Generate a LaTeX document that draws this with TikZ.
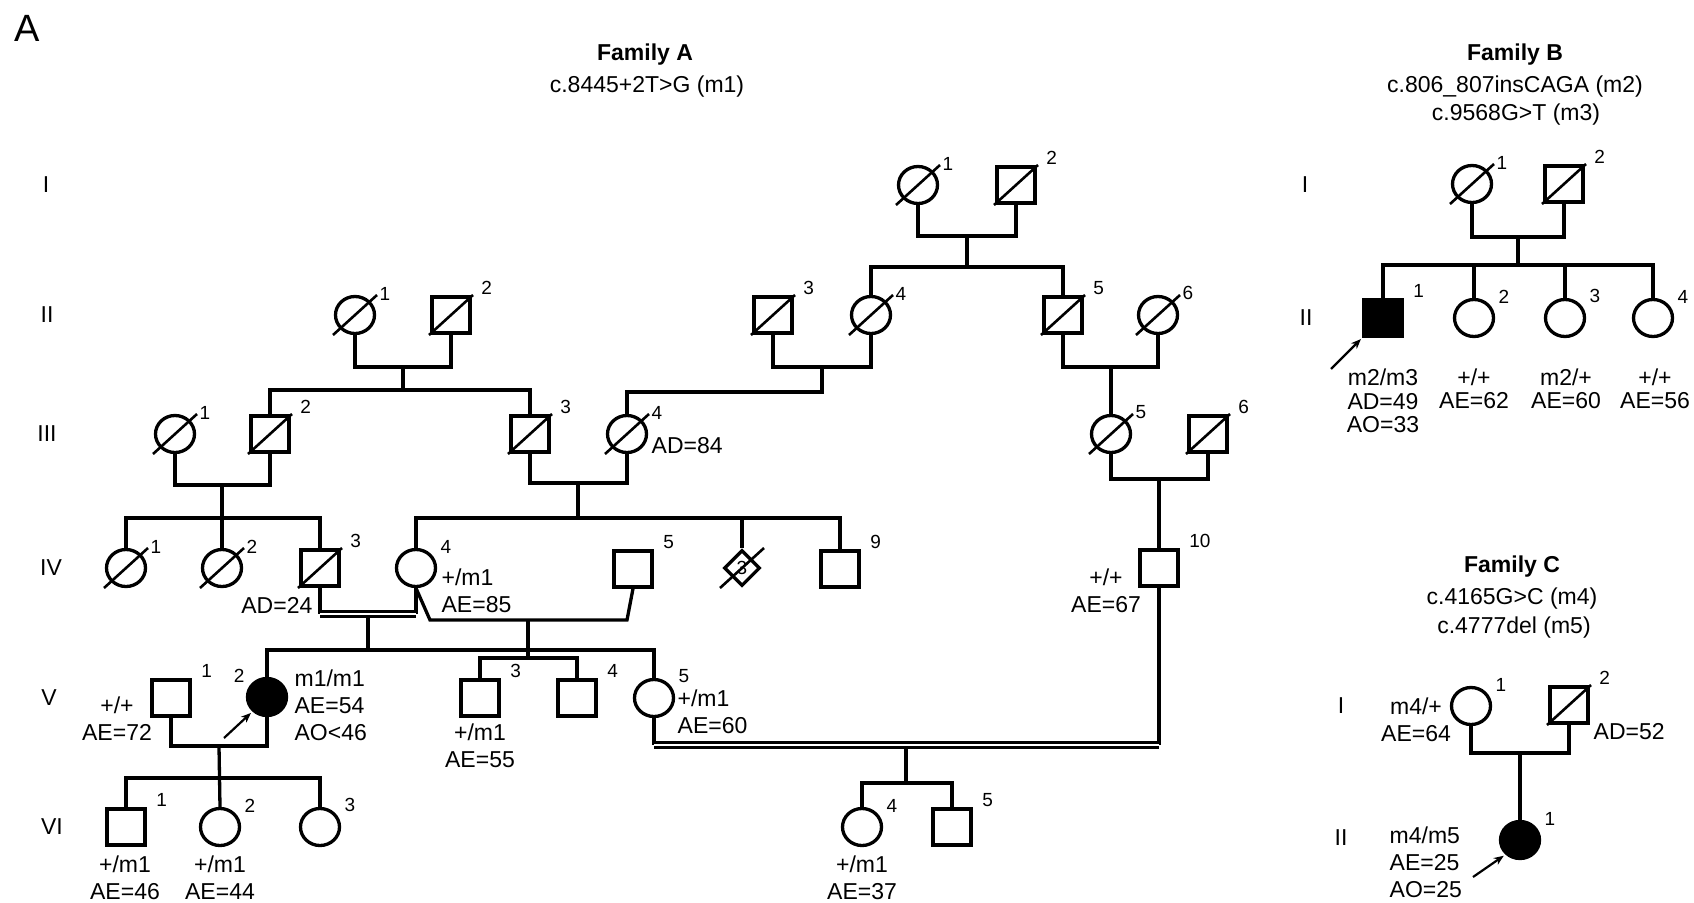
\documentclass[tikz,border=0pt]{standalone}
\usepackage{fontspec}
\setmainfont{Liberation Sans}
\usetikzlibrary{shapes.geometric,arrows.meta}
\newcommand{\txtsize}{\fontsize{23}{27}\selectfont}
\newcommand{\numsize}{\fontsize{19}{21}\selectfont}
\begin{document}
\begin{tikzpicture}[x=1pt, y=-1pt, line width=3.3pt,
  male/.style={draw, rectangle, minimum width=38pt, minimum height=36pt, inner sep=0pt},
  female/.style={draw, ellipse, minimum width=39pt, minimum height=37pt, inner sep=0pt},
  unknown/.style={draw, diamond, minimum width=36pt, minimum height=36pt, inner sep=0pt, font=\numsize},
  affected/.style={fill=black},
  num/.style={label={[font=\numsize, inner sep=0pt, xshift=8pt, yshift=-1pt]north east:#1}},
  numleft/.style={label={[font=\numsize, inner sep=0pt, xshift=-6pt, yshift=-1pt]north west:#1}},
  info/.style={font=\txtsize, inner sep=0pt},
  gen/.style={font=\txtsize, inner sep=0pt},
  famtitle/.style={font=\txtsize\bfseries, inner sep=0pt},
  proband/.style={-{Stealth[length=10pt, width=8pt]}, line width=2.2pt, shorten >=2pt},
  consang/.style={double, double distance=2.6pt, line width=2.3pt}]
\useasboundingbox (0,0) rectangle (1694,902);
\node[font=\fontsize{38}{40}\selectfont, inner sep=0pt] (panel) at (27,28) {A};

% ---------- Family A ----------
\node[famtitle] (titleA) at (645,55) {Family A};
\node[info] (mutA) at (647,87) {c.8445+2T>G (m1)};
\node[gen] (gAI) at (46,185) {I};
\node[gen] (gAII) at (47,315) {II};
\node[gen] (gAIII) at (47,434) {III};
\node[gen] (gAIV) at (51,568) {IV};
\node[gen] (gAV) at (49,698) {V};
\node[gen] (gAVI) at (52,827) {VI};
% generation I
\node[female, num=1] (AI1) at (918,185) {};
\node[male, num=2] (AI2) at (1016,185) {};
% generation II
\node[female, num=1] (AII1) at (355,315) {};
\node[male, num=2] (AII2) at (451,315) {};
\node[male, num=3] (AII3) at (773,315) {};
\node[female, num=4] (AII4) at (871,315) {};
\node[male, num=5] (AII5) at (1063,315) {};
\node[female, num=6] (AII6) at (1158,315) {};
% generation III
\node[female, num=1] (AIII1) at (175,434) {};
\node[male, num=2] (AIII2) at (270,434) {};
\node[male, num=3] (AIII3) at (530,434) {};
\node[female, num=4] (AIII4) at (627,434) {};
\node[female, num=5] (AIII5) at (1111,434) {};
\node[male, num=6] (AIII6) at (1208,434) {};
% generation IV
\node[female, num=1] (AIV1) at (126,568) {};
\node[female, num=2] (AIV2) at (222,568) {};
\node[male, num=3] (AIV3) at (320,568) {};
\node[female, num=4] (AIV4) at (416,568) {};
\node[male, num=5] (AIV5) at (633,569) {};
\node[unknown] (AIVd) at (742,568) {3};
\node[male, num=9] (AIV9) at (840,569) {};
\node[male, num=10] (AIV10) at (1159,568) {};
% generation V
\node[male, num=1] (AV1) at (171,698) {};
\node[female, affected, numleft=2] (AV2) at (267,697) {};
\node[male, num=3] (AV3) at (480,698) {};
\node[male, num=4] (AV4) at (577,698) {};
\node[female, num=5] (AV5) at (654,698) {};
% generation VI
\node[male, num=1] (AVI1) at (126,827) {};
\node[female, num=2] (AVI2) at (220,827) {};
\node[female, num=3] (AVI3) at (320,827) {};
\node[female, num=4] (AVI4) at (862,827) {};
\node[male, num=5] (AVI5) at (952,827) {};

% couples and sibships
\coordinate (mAI) at (967,236);
\coordinate (sAI) at (967,267);
\draw (AI1.south) |- (mAI) -| (AI2.south);
\draw (mAI) -- (sAI);
\draw (AII4.north) |- (sAI) -| (AII5.north);
\coordinate (mAII12) at (403,367);
\coordinate (sAII12) at (403,390);
\draw (AII1.south) |- (mAII12) -| (AII2.south);
\draw (mAII12) -- (sAII12);
\draw (AIII2.north) |- (sAII12) -| (AIII3.north);
\coordinate (mAII34) at (822,367);
\coordinate (sAII34) at (822,392);
\draw (AII3.south) |- (mAII34) -| (AII4.south);
\draw (mAII34) -- (sAII34) -| (AIII4.north);
\coordinate (mAII56) at (1111,367);
\draw (AII5.south) |- (mAII56) -| (AII6.south);
\draw (mAII56) -- (AIII5.north);
\coordinate (mAIII12) at (222,485);
\coordinate (sAIII12) at (222,518);
\draw (AIII1.south) |- (mAIII12) -| (AIII2.south);
\draw (mAIII12) -- (AIV2.north);
\draw (AIV1.north) |- (sAIII12) -| (AIV3.north);
\coordinate (mAIII34) at (578,483);
\coordinate (sAIII34) at (578,518);
\draw (AIII3.south) |- (mAIII34) -| (AIII4.south);
\draw (mAIII34) -- (sAIII34);
\draw (AIV4.north) |- (sAIII34) -| (AIV9.north);
\draw (AIVd.north) -- (AIVd.north |- sAIII34);
\coordinate (mAIII56) at (1159,479);
\draw (AIII5.south) |- (mAIII56) -| (AIII6.south);
\draw (mAIII56) -- (AIV10.north);
% IV-3 x IV-4 (consanguineous)
\coordinate (mAIV34) at (368,614);
\coordinate (sAIV34) at (368,650);
\draw (AIV3.south) -- (AIV3.south |- mAIV34);
\draw (AIV4.south) -- (AIV4.south |- mAIV34);
\draw (mAIV34) -- (sAIV34);
\draw[consang] (AIV3.south |- mAIV34) -- (AIV4.south |- mAIV34);
\draw (AV2.north) |- (sAIV34) -| (AV5.north);
% IV-4 x IV-5
\coordinate (kAIV4) at (430,620);
\coordinate (kAIV5) at (627,620);
\coordinate (mAIV45) at (528,620);
\coordinate (sAIV45) at (528,658);
\draw (AIV4.south) -- (kAIV4) -- (kAIV5) -- (AIV5.south);
\draw (mAIV45) -- (sAIV45);
\draw (AV3.north) |- (sAIV45) -| (AV4.north);
% V-1 x V-2
\coordinate (mAV12) at (219,746);
\coordinate (sAV12) at (219,778);
\draw (AV1.south) |- (mAV12) -| (AV2.south);
\draw (mAV12) -- (AVI2.north);
\draw (AVI1.north) |- (sAV12) -| (AVI3.north);
% V-5 x IV-10 (consanguineous)
\coordinate (mAV5) at (906,745);
\coordinate (sAV5) at (906,783);
\draw (AV5.south) -- (AV5.south |- mAV5);
\draw (AIV10.south) -- (AIV10.south |- mAV5);
\draw (mAV5) -- (sAV5);
\draw[consang] (AV5.south |- mAV5) -- (AIV10.south |- mAV5);
\draw (AVI4.north) |- (sAV5) -| (AVI5.north);

% annotations
\node[info, anchor=west] (tAIII4) at (650,446) {AD=84};
\node[info, anchor=east] (tAIV3) at (314,605) {AD=24};
\node[info, anchor=west, align=left] (tAIV4) at (440,591) {+/m1\\AE=85};
\node[info, align=center] (tAIV10) at (1106,591) {+/+\\AE=67};
\node[info, align=center] (tAV1) at (117,719) {+/+\\AE=72};
\node[info, anchor=west, align=left] (tAV2) at (293,705) {m1/m1\\AE=54\\AO<46};
\node[info, align=center] (tAV3) at (480,746) {+/m1\\AE=55};
\node[info, anchor=west, align=left] (tAV5) at (676,712) {+/m1\\AE=60};
\node[info, align=center] (tAVI1) at (125,878) {+/m1\\AE=46};
\node[info, align=center] (tAVI2) at (220,878) {+/m1\\AE=44};
\node[info, align=center] (tAVI4) at (862,878) {+/m1\\AE=37};
\coordinate (pAV2) at (224,738);
\draw[proband] (pAV2) -- (AV2.-135);

% ---------- Family B ----------
\node[famtitle] (titleB) at (1515,55) {Family B};
\node[info] (mutB1) at (1515,87) {c.806\_807insCAGA (m2)};
\node[info] (mutB2) at (1516,115) {c.9568G>T (m3)};
\node[gen] (gBI) at (1305,185) {I};
\node[gen] (gBII) at (1306,318) {II};
\node[female, num=1] (BI1) at (1472,184) {};
\node[male, num=2] (BI2) at (1564,184) {};
\node[male, affected, num=1] (BII1) at (1383,318) {};
\node[female, num=2] (BII2) at (1474,318) {};
\node[female, num=3] (BII3) at (1565,318) {};
\node[female, num=4] (BII4) at (1653,318) {};
\coordinate (mBI) at (1518,237);
\coordinate (sBI) at (1518,265);
\draw (BI1.south) |- (mBI) -| (BI2.south);
\draw (mBI) -- (sBI);
\draw (BII1.north) |- (sBI) -| (BII4.north);
\draw (BII2.north) -- (BII2.north |- sBI);
\draw (BII3.north) -- (BII3.north |- sBI);
\node[info, align=center, font=\fontsize{23}{23.5}\selectfont] (tBII1) at (1383,401) {m2/m3\\AD=49\\AO=33};
\node[info, align=center, font=\fontsize{23}{23.5}\selectfont] (tBII2) at (1474,389) {+/+\\AE=62};
\node[info, align=center, font=\fontsize{23}{23.5}\selectfont] (tBII3) at (1566,389) {m2/+\\AE=60};
\node[info, align=center, font=\fontsize{23}{23.5}\selectfont] (tBII4) at (1655,389) {+/+\\AE=56};
\coordinate (pBII1) at (1331,369);
\draw[proband] (pBII1) -- (BII1.south west);

% ---------- Family C ----------
\node[famtitle] (titleC) at (1512,567) {Family C};
\node[info] (mutC1) at (1512,599) {c.4165G>C (m4)};
\node[info] (mutC2) at (1514,628) {c.4777del (m5)};
\node[gen] (gCI) at (1341,706) {I};
\node[gen] (gCII) at (1341,838) {II};
\node[female, num=1] (CI1) at (1471,706) {};
\node[male, num=2] (CI2) at (1569,705) {};
\node[female, affected, num=1] (CII1) at (1520,840) {};
\coordinate (mCI) at (1520,753);
\draw (CI1.south) |- (mCI) -| (CI2.south);
\draw (mCI) -- (CII1.north);
\node[info, align=center] (tCI1) at (1416,720) {m4/+\\AE=64};
\node[info, anchor=west] (tCI2) at (1592,732) {AD=52};
\node[info, anchor=west, align=left] (tCII1) at (1388,862) {m4/m5\\AE=25\\AO=25};
\coordinate (pCII1) at (1473,877);
\draw[proband] (pCII1) -- (CII1.-135);

% deceased
\foreach \p in {AI1,AI2,AII1,AII2,AII3,AII4,AII5,AII6,AIII1,AIII2,AIII3,AIII4,AIII5,AIII6,AIV1,AIV2,AIV3,AIVd,BI1,BI2,CI2}
  \draw[line width=2.6pt] (\p.center) ++(-22,20) -- ++(44,-40);
\end{tikzpicture}
\end{document}
